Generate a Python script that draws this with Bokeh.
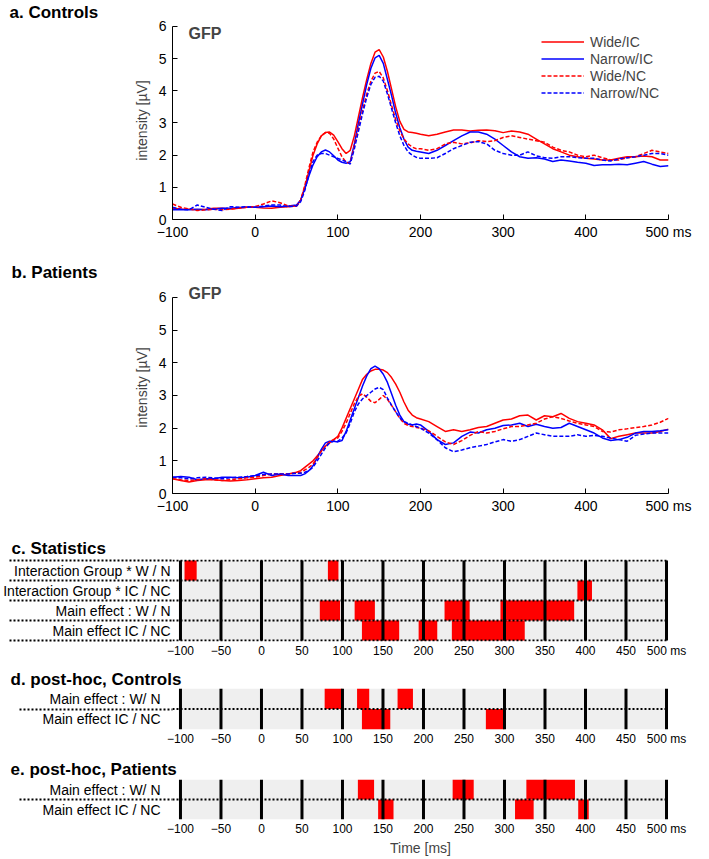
from bokeh.plotting import figure
from bokeh.models import Range1d, FixedTicker, Label, Legend, LegendItem, ColumnDataSource, Title
from bokeh.layouts import column
from bokeh.embed import file_html
from bokeh.resources import INLINE

FONT = "Liberation Sans"
RED = "#ff0000"
BLUE = "#0000ff"
GRAY = "#efefef"

# ---------------- data ----------------
T = ([-100, -90, -80, -70, -60, -50, -40, -30, -20, -10, 0, 10, 20, 30, 40, 50]
     + list(range(55, 201, 5)) + list(range(210, 501, 10)))

# a. Controls
a_wide_ic = [0.35, 0.33, 0.32, 0.30, 0.32, 0.35, 0.35, 0.33, 0.35, 0.38, 0.38, 0.36, 0.35, 0.38, 0.40, 0.42,
             0.6, 1.0, 1.5, 2.0, 2.35, 2.6, 2.7, 2.72, 2.62, 2.42, 2.2, 2.05, 2.15, 2.6, 3.2, 3.8, 4.35, 4.85, 5.2, 5.28,
             5.05, 4.6, 4.05, 3.5, 3.05, 2.8, 2.72, 2.7, 2.68, 2.65,
             2.6, 2.65, 2.72, 2.78, 2.78, 2.75, 2.77, 2.78, 2.76, 2.7, 2.75, 2.72, 2.65, 2.5, 2.35, 2.2, 2.1, 2.0, 1.95,
             1.9, 1.88, 1.85, 1.85, 1.9, 1.95, 1.95, 1.97, 1.95, 1.85, 1.85]
a_narrow_ic = [0.3, 0.3, 0.3, 0.32, 0.3, 0.33, 0.35, 0.35, 0.37, 0.38, 0.38, 0.4, 0.42, 0.4, 0.42, 0.45,
               0.6, 0.95, 1.35, 1.7, 1.95, 2.1, 2.16, 2.1, 1.98, 1.85, 1.78, 1.75, 1.8, 2.35, 3.0, 3.6, 4.2, 4.7, 5.02, 5.1,
               4.85, 4.35, 3.85, 3.3, 2.85, 2.5, 2.25, 2.15, 2.12, 2.1,
               2.05, 2.15, 2.3, 2.45, 2.6, 2.72, 2.72, 2.65, 2.5, 2.3, 2.1, 1.95, 1.9, 1.92, 1.88, 1.8, 1.85, 1.82, 1.78,
               1.75, 1.68, 1.7, 1.7, 1.72, 1.7, 1.75, 1.8, 1.72, 1.65, 1.67]
a_wide_nc = [0.48, 0.38, 0.33, 0.28, 0.3, 0.32, 0.3, 0.32, 0.36, 0.38, 0.4, 0.48, 0.58, 0.52, 0.42, 0.42,
             0.6, 1.05, 1.6, 2.1, 2.4, 2.6, 2.7, 2.68, 2.5, 2.22, 1.95, 1.78, 1.75, 2.3, 2.85, 3.4, 3.9, 4.3, 4.55, 4.6,
             4.4, 4.0, 3.55, 3.1, 2.75, 2.5, 2.35, 2.25, 2.2, 2.2,
             2.15, 2.2, 2.35, 2.4, 2.35, 2.38, 2.45, 2.42, 2.45, 2.55, 2.6, 2.55, 2.5, 2.45, 2.4, 2.25, 2.15, 2.1, 2.0,
             1.95, 2.0, 1.92, 1.85, 1.85, 1.92, 1.95, 2.05, 2.15, 2.1, 2.05]
a_narrow_nc = [0.38, 0.32, 0.3, 0.45, 0.38, 0.32, 0.28, 0.4, 0.38, 0.4, 0.38, 0.42, 0.45, 0.45, 0.4, 0.42,
               0.55, 0.9, 1.4, 1.8, 2.0, 2.05, 2.05, 2.0, 1.95, 1.9, 1.85, 1.8, 1.72, 2.2, 2.75, 3.3, 3.8, 4.2, 4.42, 4.45,
               4.3, 3.9, 3.45, 3.0, 2.6, 2.3, 2.1, 2.0, 1.93, 1.9,
               1.9, 1.92, 2.05, 2.2, 2.3, 2.4, 2.42, 2.35, 2.15, 2.05, 2.0, 2.0, 2.1, 1.98, 1.92, 1.9, 1.95, 1.95, 1.92,
               1.9, 1.9, 1.85, 1.82, 1.88, 1.92, 1.95, 2.0, 2.05, 2.05, 2.0]

# b. Patients
b_wide_ic = [0.45, 0.4, 0.35, 0.4, 0.42, 0.42, 0.4, 0.38, 0.4, 0.42, 0.45, 0.48, 0.5, 0.55, 0.6, 0.65,
             0.7, 0.8, 0.9, 1.0, 1.15, 1.3, 1.45, 1.55, 1.65, 1.75, 2.0, 2.3, 2.6, 2.9, 3.2, 3.5, 3.65, 3.75, 3.8, 3.8,
             3.78, 3.7, 3.55, 3.35, 3.1, 2.8, 2.55, 2.4, 2.32, 2.28,
             2.2, 2.05, 1.9, 1.95, 1.9, 1.95, 2.02, 2.05, 2.15, 2.25, 2.28, 2.38, 2.4, 2.25, 2.38, 2.35, 2.45, 2.3, 2.2,
             2.15, 2.1, 1.95, 1.68, 1.75, 1.8, 1.85, 1.85, 1.85, 1.9, 1.97]
b_narrow_ic = [0.5, 0.52, 0.5, 0.42, 0.45, 0.45, 0.5, 0.5, 0.48, 0.5, 0.55, 0.65, 0.55, 0.6, 0.55, 0.55,
               0.55, 0.6, 0.7, 0.85, 1.1, 1.35, 1.55, 1.6, 1.6, 1.58, 1.62, 1.9, 2.25, 2.6, 2.95, 3.3, 3.6, 3.82, 3.9, 3.82,
               3.65, 3.4, 3.05, 2.7, 2.4, 2.2, 2.12, 2.1, 2.13, 2.1,
               1.9, 1.65, 1.5, 1.55, 1.75, 1.88, 1.85, 1.95, 2.0, 2.08, 2.1, 2.15, 2.05, 2.12, 2.05, 2.0, 2.02, 2.15, 2.05,
               1.95, 1.85, 1.7, 1.62, 1.65, 1.72, 1.85, 1.9, 1.9, 1.92, 1.95]
b_wide_nc = [0.45, 0.42, 0.4, 0.42, 0.45, 0.42, 0.4, 0.42, 0.45, 0.48, 0.5, 0.55, 0.6, 0.6, 0.6, 0.62,
             0.65, 0.72, 0.8, 0.9, 1.1, 1.3, 1.45, 1.58, 1.65, 1.7, 1.9, 2.15, 2.45, 2.75, 2.98, 3.05, 2.95, 2.82, 2.78, 2.88,
             3.0, 2.88, 2.7, 2.5, 2.3, 2.15, 2.08, 2.05, 2.02, 2.0,
             1.92, 1.75, 1.58, 1.5, 1.62, 1.78, 1.9, 1.85, 1.9, 1.98, 2.05, 2.05, 2.1, 2.15, 2.28, 2.35, 2.3, 2.22, 2.15,
             2.1, 2.05, 1.9, 1.88, 1.95, 1.98, 2.02, 2.05, 2.1, 2.18, 2.3]
b_narrow_nc = [0.5, 0.48, 0.45, 0.48, 0.5, 0.48, 0.45, 0.48, 0.5, 0.52, 0.55, 0.58, 0.6, 0.6, 0.6, 0.62,
               0.62, 0.65, 0.7, 0.8, 1.0, 1.2, 1.4, 1.55, 1.6, 1.6, 1.7, 1.85, 2.15, 2.5, 2.75, 2.9, 3.0, 3.1, 3.2, 3.25,
               3.18, 2.92, 2.7, 2.5, 2.32, 2.2, 2.15, 2.1, 2.05, 2.0,
               1.85, 1.65, 1.4, 1.28, 1.33, 1.4, 1.45, 1.5, 1.58, 1.65, 1.6, 1.65, 1.75, 1.85, 1.8, 1.75, 1.75, 1.75, 1.8,
               1.75, 1.78, 1.75, 1.7, 1.65, 1.6, 1.78, 1.82, 1.85, 1.85, 1.85]

series_names = ["Wide/IC", "Narrow/IC", "Wide/NC", "Narrow/NC"]
series_colors = [RED, BLUE, RED, BLUE]
series_dash = ["solid", "solid", "4 2", "4 2"]

x_ticks_gfp = [-100, 0, 100, 200, 300, 400, 500]
y_ticks_gfp = [0, 1, 2, 3, 4, 5, 6]
x_ticks_stat = [-100, -50, 0, 50, 100, 150, 200, 250, 300, 350, 400, 450, 500]

# c. Statistics: significant windows (row index from top, start ms, end ms)
stat_rows = ["Interaction Group * W / N", "Interaction Group * IC / NC", "Main effect : W / N", "Main effect IC / NC"]
stat_row = [0, 0, 1, 2, 2, 2, 2, 3, 3, 3]
stat_start = [-95, 82, 390, 72, 115, 226, 295, 124, 194, 235]
stat_end = [-80, 95, 408, 97, 140, 257, 386, 170, 217, 325]

# d. post-hoc, Controls
post_rows = ["Main effect : W/ N", "Main effect IC / NC"]
ctrl_row = [0, 0, 0, 1, 1]
ctrl_start = [78, 118, 168, 124, 277]
ctrl_end = [100, 133, 187, 159, 300]

# e. post-hoc, Patients
pat_row = [0, 0, 0, 1, 1, 1]
pat_start = [119, 236, 327, 144, 313, 391]
pat_end = [139, 262, 387, 163, 336, 404]

W = 705
LEFT = 170          # frame left (px)
RIGHT = W - 668     # frame right at x = 668 px
TITLE_SIZE = "17px"
PX_PER_UNIT = 32.667  # GFP panels: pixels per µV


def set_title(p, text, x, standoff):
    p.title = Title(text=text, align="left", offset=x - LEFT, standoff=standoff, text_font=FONT,
                    text_font_size=TITLE_SIZE, text_font_style="bold", text_color="black")


def gfp_panel(height, top, bottom, data, title, title_x, gfp_yo, with_legend):
    # frame top sits a little above the y = 6 tick so that the "GFP" label fits inside it
    extra = (height - top - bottom) / PX_PER_UNIT - 6
    p = figure(width=W, height=height, x_range=Range1d(-100, 500), y_range=Range1d(0, 6 + extra),
               output_backend="svg", toolbar_location=None,
               min_border_left=LEFT, min_border_right=RIGHT, min_border_top=top, min_border_bottom=bottom)
    p.outline_line_color = None
    p.grid.visible = False
    renderers = []
    for vals, c, d in zip(data, series_colors, series_dash):
        renderers.append(p.line(T, vals, line_color=c, line_width=1.5, line_dash=d))
    p.xaxis.ticker = FixedTicker(ticks=x_ticks_gfp)
    p.yaxis.ticker = FixedTicker(ticks=y_ticks_gfp)
    p.yaxis.bounds = (0, 6)
    p.xaxis.major_label_overrides = {500: "500 ms"}
    for ax in (p.xaxis[0], p.yaxis[0]):
        ax.major_tick_in = 5
        ax.major_tick_out = 0
        ax.minor_tick_in = 0
        ax.minor_tick_out = 0
        ax.minor_tick_line_color = None
        ax.axis_line_color = "black"
        ax.major_tick_line_color = "black"
        ax.major_label_text_font = FONT
        ax.major_label_text_font_size = "14px"
        ax.major_label_text_color = "black"
    p.xaxis.major_label_standoff = 4
    p.yaxis.major_label_standoff = 6
    p.yaxis.axis_label = "intensity [µV]"
    p.yaxis.axis_label_text_font = FONT
    p.yaxis.axis_label_text_font_size = "14px"
    p.yaxis.axis_label_text_font_style = "normal"
    p.yaxis.axis_label_standoff = 6
    set_title(p, title, title_x, 0)
    p.add_layout(Label(x=-100, y=6, x_offset=16, y_offset=gfp_yo, text="GFP", text_font=FONT,
                       text_font_size="16px", text_font_style="bold", text_baseline="alphabetic"))
    if with_legend:
        items = [LegendItem(label=n, renderers=[r]) for n, r in zip(series_names, renderers)]
        lg = Legend(items=items, location=(369, 118), glyph_width=43, glyph_height=17, label_height=17,
                    label_standoff=6, spacing=0, padding=0, margin=0, border_line_color=None,
                    background_fill_alpha=0, label_text_font=FONT, label_text_font_size="14px")
        p.add_layout(lg)
    return p


# panel a: frame 18..219 px (y = 6 at 23 px); panel b: frame 281..493 px (y = 6 at 297 px)
pa = gfp_panel(250, 18, 31, [a_wide_ic, a_narrow_ic, a_wide_nc, a_narrow_nc],
               "a. Controls", 7, -7, True)
pb = gfp_panel(272, 31, 29, [b_wide_ic, b_narrow_ic, b_wide_nc, b_narrow_nc],
               "b. Patients", 9, 4, False)

XS, XE = -109.84, 502.46   # -100 at x=178 px, 500 at x=666 px


def stat_panel(height, top, bottom, nrows, labels, rows, starts, ends, label_gap, dot_len, dot_all,
               title, title_x, title_standoff, pad):
    p = figure(width=W, height=height, x_range=Range1d(XS, XE), y_range=Range1d(-pad, nrows + pad),
               output_backend="svg", toolbar_location=None,
               min_border_left=LEFT, min_border_right=RIGHT, min_border_top=top, min_border_bottom=bottom)
    p.outline_line_color = None
    p.grid.visible = False
    p.quad(left=[-100], right=[500], bottom=[0], top=[nrows], fill_color=GRAY, line_color=None)
    src = ColumnDataSource(dict(
        left=starts, right=ends,
        top=[nrows - r for r in rows], bottom=[nrows - r - 1 for r in rows]))
    p.quad(left="left", right="right", top="top", bottom="bottom", source=src, fill_color=RED, line_color=None)
    p.segment(x0=x_ticks_stat, x1=x_ticks_stat, y0=[0] * len(x_ticks_stat), y1=[nrows] * len(x_ticks_stat),
              line_color="black", line_width=3)
    ys = list(range(nrows + 1)) if dot_all else list(range(1, nrows))
    p.segment(x0=[XS] * len(ys), x1=[500] * len(ys), y0=ys, y1=ys, line_color="black",
              line_width=2, line_dash="2 2")
    # x axis: tick labels only
    ax = p.xaxis[0]
    ax.ticker = FixedTicker(ticks=x_ticks_stat)
    ax.major_label_overrides = {500: "500 ms"}
    ax.axis_line_color = None
    ax.major_tick_line_color = None
    ax.minor_tick_line_color = None
    ax.major_tick_out = 0
    ax.major_tick_in = 0
    ax.minor_tick_out = 0
    ax.minor_tick_in = 0
    ax.major_label_standoff = 2
    ax.major_label_text_font = FONT
    ax.major_label_text_font_size = "12px"
    ax.major_label_text_color = "black"
    # y axis: row names as tick labels, row borders as long dotted minor ticks
    centers = [nrows - i - 0.5 for i in range(nrows)]
    ay = p.yaxis[0]
    ay.ticker = FixedTicker(ticks=centers, minor_ticks=ys)
    ay.major_label_overrides = {c: lab for c, lab in zip(centers, labels)}
    ay.axis_line_color = None
    ay.major_tick_line_color = None
    ay.major_tick_out = 0
    ay.major_tick_in = 0
    ay.minor_tick_in = 0
    ay.minor_tick_out = dot_len
    ay.minor_tick_line_color = "black"
    ay.minor_tick_line_width = 2
    ay.minor_tick_line_dash = "2 2"
    ay.major_label_standoff = label_gap - dot_len
    ay.major_label_text_font = FONT
    ay.major_label_text_font_size = "14px"
    ay.major_label_text_color = "black"
    set_title(p, title, title_x, title_standoff)
    return p


pc = stat_panel(140, 37, 21, 4, stat_rows, stat_row, stat_start, stat_end, 2, 163, True,
                "c. Statistics", 9, 4, 0.05)
pd_ = stat_panel(86, 26, 18, 2, post_rows, ctrl_row, ctrl_start, ctrl_end, 12, 153, False,
                 "d. post-hoc, Controls", 8, 0, 0)
pe = stat_panel(110, 31, 38, 2, post_rows, pat_row, pat_start, pat_end, 12, 153, False,
                "e. post-hoc, Patients", 8, 2, 0)
pe.xaxis.axis_label = "Time [ms]"
pe.xaxis.axis_label_text_font = FONT
pe.xaxis.axis_label_text_font_size = "14px"
pe.xaxis.axis_label_text_font_style = "normal"
pe.xaxis.axis_label_standoff = 1

layout = column(pa, pb, pc, pd_, pe, spacing=0)
open("out.html", "w").write(file_html(layout, INLINE))
